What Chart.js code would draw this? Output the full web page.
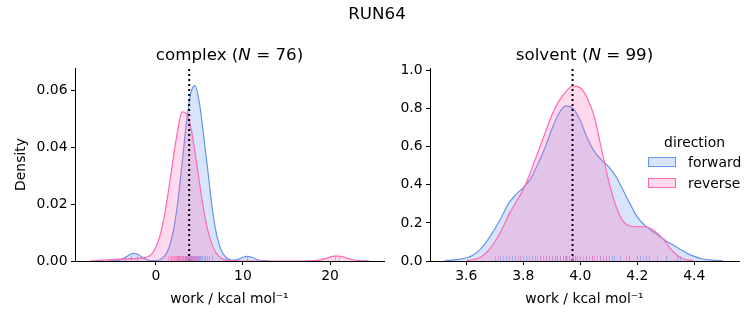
<!DOCTYPE html>
<html>
<head>
<meta charset="utf-8">
<script src="https://cdn.jsdelivr.net/npm/chart.js@4/dist/chart.umd.min.js"></script>
<style>
  html, body { margin: 0; padding: 0; background: #fff; }
  body { width: 753px; height: 325px; position: relative; overflow: hidden;
         font-family: 'DejaVu Sans', sans-serif; color: #000; }
  canvas { position: absolute; top: 0; }
  #cComplex { left: 0; }
  #cSolvent { left: 395px; }
  .txt { position: absolute; white-space: nowrap; transform: translate(-50%, -50%); line-height: 1.2; }
  .sup { font-size: 16.7px; }
  .ax  { font-size: 16.7px; }
  .leg { font-size: 13.9px; }
  .swatch { position: absolute; width: 28px; height: 10px; box-sizing: border-box; border: 1.2px solid; }
  .ltxt { position: absolute; white-space: nowrap; font-size: 13.9px; transform: translateY(-50%); line-height: 1.2; }
</style>
</head>
<body>
<canvas id="cComplex" width="395" height="325"></canvas>
<canvas id="cSolvent" width="358" height="325"></canvas>

<div class="txt sup" style="left:377px; top:13px;">RUN64</div>
<div class="txt ax" style="left:229.5px; top:54px;">complex (<i>N</i> = 76)</div>
<div class="txt ax" style="left:584.5px; top:54px;">solvent (<i>N</i> = 99)</div>

<div class="txt leg" style="left:694.5px; top:142px;">direction</div>
<div class="swatch" style="left:648px; top:157px; background:rgba(100,149,237,0.25); border-color:#6495ed;"></div>
<div class="ltxt" style="left:688px; top:162px;">forward</div>
<div class="swatch" style="left:648px; top:178px; background:rgba(255,105,180,0.25); border-color:#ff69b4;"></div>
<div class="ltxt" style="left:688px; top:183px;">reverse</div>

<script>
'use strict';

// ── Colours ───────────────────────────────────────────────────────────────
const COL_FWD  = '#6495ed';
const COL_REV  = '#ff69b4';
const FILL_FWD = 'rgba(100,149,237,0.25)';
const FILL_REV = 'rgba(255,105,180,0.25)';
const RUG_FWD  = 'rgba(100,149,237,0.55)';
const RUG_REV  = 'rgba(255,105,180,0.55)';

// ── Complex panel data (work, kcal/mol → density) ─────────────────────────
const complexX = [-8, -7.5, -7, -6.5, -6, -5.5, -5, -4.5, -4, -3.5, -3, -2.5, -2, -1.5, -1, -0.5,
  0, 0.5, 1, 1.5, 2, 2.5, 3, 3.5, 4, 4.5, 5, 5.5, 6, 6.5, 7, 7.5, 8, 8.5, 9, 9.5,
  10, 10.5, 11, 11.5, 12, 12.5, 13, 13.5, 14, 14.5, 15, 15.5, 16, 16.5, 17, 17.5,
  18, 18.5, 19, 19.5, 20, 20.5, 21, 21.5, 22, 22.5, 23, 23.5, 24, 24.5];
const complexFwd = [null, null, null, null, null, 0.00002, 0.00004, 0.00012, 0.00046, 0.00124, 0.00222, 0.0027, 0.00222, 0.00124, 0.00046, 0.00012,
  0.00017, 0.00055, 0.00172, 0.00455, 0.0104, 0.0202, 0.0337, 0.0481, 0.0588, 0.0616, 0.0556, 0.0438, 0.031, 0.018, 0.009, 0.0038, 0.0014, 0.0005, 0.0003, 0.00066,
  0.0013, 0.0016, 0.0013, 0.0006, 0.00018, 0.00003, 0.00001, null, null, null, null, null, null, null, null, null,
  null, null, null, null, null, null, null, null, null, null, null, null, null, null];
const complexRev = [null, 0.00004, 0.0001, 0.0002, 0.0003, 0.0004, 0.0005, 0.0006, 0.0007, 0.00075, 0.0008, 0.00085, 0.001, 0.0011, 0.0014, 0.0023,
  0.0048, 0.0092, 0.0162, 0.0256, 0.0361, 0.0456, 0.0524, 0.0518, 0.0472, 0.0382, 0.0277, 0.0179, 0.0104, 0.0054, 0.0025, 0.00104, 0.00039, 0.00013, 0.00004, 0.00001,
  0, 0, 0, 0, 0, 0, 0, 0, 0, 0, 0, 0, 0, 0, 0, 0.00002,
  0.00007, 0.0002, 0.00046, 0.00087, 0.00134, 0.00169, 0.00172, 0.00143, 0.00097, 0.00053, 0.00024, 0.00009, 0.00003, 0.00001];
const complexRugFwd = [-2.8, -2.2, 2.4, 2.7, 2.9, 3.1, 3.3, 3.4, 3.5, 3.6, 3.7, 3.8, 3.9, 4.0, 4.05, 4.1, 4.2,
  4.3, 4.35, 4.4, 4.5, 4.6, 4.7, 4.8, 4.9, 5.0, 5.1, 5.3, 5.5, 5.7, 5.9, 6.1, 6.4, 10.5];
const complexRugRev = [-3.5, 1.4, 1.6, 1.8, 1.9, 2.0, 2.1, 2.2, 2.3, 2.4, 2.5, 2.6, 2.7, 2.8, 2.9, 3.0, 3.1,
  3.2, 3.3, 3.4, 3.5, 3.6, 3.7, 3.8, 3.9, 4.0, 4.2, 4.4, 4.6, 4.9, 5.2, 20.6, 21.0];
const complexMarker = 3.83;
const complexXTicks = [0, 10, 20];
const complexYTicks = [0, 0.02, 0.04, 0.06];

// ── Solvent panel data ────────────────────────────────────────────────────
const solventX = [3.5, 3.525, 3.55, 3.575, 3.6, 3.625, 3.65, 3.675, 3.7, 3.725, 3.75, 3.775, 3.8, 3.825,
  3.85, 3.875, 3.9, 3.925, 3.95, 3.975, 4, 4.025, 4.05, 4.075, 4.1, 4.125, 4.15, 4.175,
  4.2, 4.225, 4.25, 4.275, 4.3, 4.325, 4.35, 4.375, 4.4, 4.425, 4.45, 4.475, 4.5, 4.525];
const solventFwd = [null, 0.002, 0.005, 0.009, 0.016, 0.032, 0.062, 0.11, 0.168, 0.235, 0.305, 0.35, 0.385, 0.43,
  0.505, 0.59, 0.69, 0.775, 0.815, 0.8, 0.74, 0.645, 0.575, 0.53, 0.495, 0.445, 0.373, 0.3,
  0.232, 0.19, 0.16, 0.133, 0.107, 0.085, 0.062, 0.04, 0.024, 0.012, 0.006, 0.003, 0.001, null];
const solventRev = [null, null, null, null, 0.002, 0.008, 0.02, 0.05, 0.1, 0.165, 0.245, 0.31, 0.375, 0.465,
  0.565, 0.665, 0.765, 0.84, 0.89, 0.92, 0.91, 0.855, 0.755, 0.585, 0.42, 0.29, 0.21, 0.184,
  0.18, 0.18, 0.168, 0.14, 0.098, 0.05, 0.02, 0.006, 0.001, null, null, null, null, null];
const solventRugFwd = [3.70, 3.72, 3.74, 3.76, 3.77, 3.79, 3.81, 3.83, 3.84, 3.86, 3.87, 3.88, 3.89, 3.90,
  3.91, 3.92, 3.93, 3.94, 3.945, 3.95, 3.96, 3.97, 3.98, 3.99, 4.00, 4.02, 4.04, 4.06, 4.07, 4.08,
  4.09, 4.10, 4.11, 4.12, 4.14, 4.17, 4.20, 4.21, 4.23, 4.24, 4.30, 4.35];
const solventRugRev = [3.71, 3.73, 3.75, 3.78, 3.80, 3.82, 3.85, 3.86, 3.88, 3.89, 3.90, 3.91, 3.92, 3.93,
  3.94, 3.95, 3.955, 3.96, 3.97, 3.975, 3.98, 3.99, 4.00, 4.01, 4.02, 4.03, 4.04, 4.05, 4.07, 4.09,
  4.16, 4.17, 4.22, 4.27, 4.34];
const solventMarker = 3.973;
const solventXTicks = [3.6, 3.8, 4.0, 4.2, 4.4];
const solventYTicks = [0, 0.2, 0.4, 0.6, 0.8, 1.0];

// ── Rug plugin: short ticks along the bottom of the plot area ─────────────
const rugPlugin = {
  id: 'rug',
  afterDatasetsDraw(chart, args, opts) {
    const { ctx, chartArea, scales } = chart;
    (opts.sets || []).forEach(set => {
      ctx.save();
      ctx.strokeStyle = set.color;
      ctx.lineWidth = 1;
      set.values.forEach(v => {
        const px = Math.round(scales.x.getPixelForValue(v)) + 0.5;
        ctx.beginPath();
        ctx.moveTo(px, chartArea.bottom);
        ctx.lineTo(px, chartArea.bottom - opts.height);
        ctx.stroke();
      });
      ctx.restore();
    });
  },
};

Chart.defaults.font.family = "'DejaVu Sans', sans-serif";
Chart.defaults.color = '#000';

const TICK_FONT = { size: 13.9 };

function axisCommon() {
  return {
    grid: { display: true, drawOnChartArea: false, drawTicks: true, tickLength: 4, color: '#000', lineWidth: 1, z: 1 },
    border: { display: true, color: '#000', width: 1, z: 1 },
  };
}

function buildPanel(canvasId, cfg) {
  const curve = ys => cfg.xs.map((x, i) => ({ x, y: ys[i] }));
  const kde = (label, ys, line, fill) => ({
    label,
    data: curve(ys),
    borderColor: line,
    backgroundColor: fill,
    borderWidth: 1.2,
    pointRadius: 0,
    fill: 'origin',
    spanGaps: false,
    cubicInterpolationMode: 'monotone',
  });

  return new Chart(document.getElementById(canvasId), {
    type: 'line',
    data: {
      datasets: [
        {
          data: [{ x: cfg.marker, y: 0 }, { x: cfg.marker, y: cfg.yMax }],
          borderColor: '#000', borderWidth: 2, borderDash: [2, 3],
          pointRadius: 0, fill: false,
        },
        kde('reverse', cfg.rev, COL_REV, FILL_REV),
        kde('forward', cfg.fwd, COL_FWD, FILL_FWD),
      ],
    },
    plugins: [rugPlugin],
    options: {
      responsive: false,
      animation: false,
      events: [],
      layout: { padding: { left: 0, top: 68, right: cfg.padRight, bottom: 0 } },
      scales: {
        x: {
          type: 'linear', min: cfg.xMin, max: cfg.xMax,
          afterFit: s => { s.height = 64; },
          afterBuildTicks: s => { s.ticks = cfg.xTicks.map(v => ({ value: v })); },
          ticks: { callback: cfg.xFmt, padding: 3, font: TICK_FONT, maxRotation: 0 },
          title: { display: true, text: 'work / kcal mol⁻¹', font: TICK_FONT, padding: { top: 0, bottom: 17 } },
          ...axisCommon(),
        },
        y: {
          type: 'linear', min: 0, max: cfg.yMax,
          afterFit: s => { s.width = cfg.yAxisW; },
          afterBuildTicks: s => { s.ticks = cfg.yTicks.map(v => ({ value: v })); },
          ticks: { callback: cfg.yFmt, padding: 3.5, font: TICK_FONT },
          title: cfg.yTitle
            ? { display: true, text: cfg.yTitle, font: TICK_FONT, padding: { top: 13, bottom: 0 } }
            : { display: false },
          ...axisCommon(),
        },
      },
      plugins: {
        legend: { display: false },
        tooltip: { enabled: false },
        rug: {
          height: 5,
          sets: [
            { values: cfg.rugFwd, color: RUG_FWD },
            { values: cfg.rugRev, color: RUG_REV },
          ],
        },
      },
    },
  });
}

buildPanel('cComplex', {
  xs: complexX, fwd: complexFwd, rev: complexRev,
  rugFwd: complexRugFwd, rugRev: complexRugRev, marker: complexMarker,
  xMin: -9.28, xMax: 26.2, yMax: 0.0678,
  xTicks: complexXTicks, yTicks: complexYTicks,
  xFmt: v => String(v), yFmt: v => v.toFixed(2),
  yAxisW: 75, padRight: 11, yTitle: 'Density',
});

buildPanel('cSolvent', {
  xs: solventX, fwd: solventFwd, rev: solventRev,
  rugFwd: solventRugFwd, rugRev: solventRugRev, marker: solventMarker,
  xMin: 3.473, xMax: 4.557, yMax: 1.014,
  xTicks: solventXTicks, yTicks: solventYTicks,
  xFmt: v => v.toFixed(1), yFmt: v => v.toFixed(1),
  yAxisW: 35, padRight: 14, yTitle: null,
});
</script>
</body>
</html>
